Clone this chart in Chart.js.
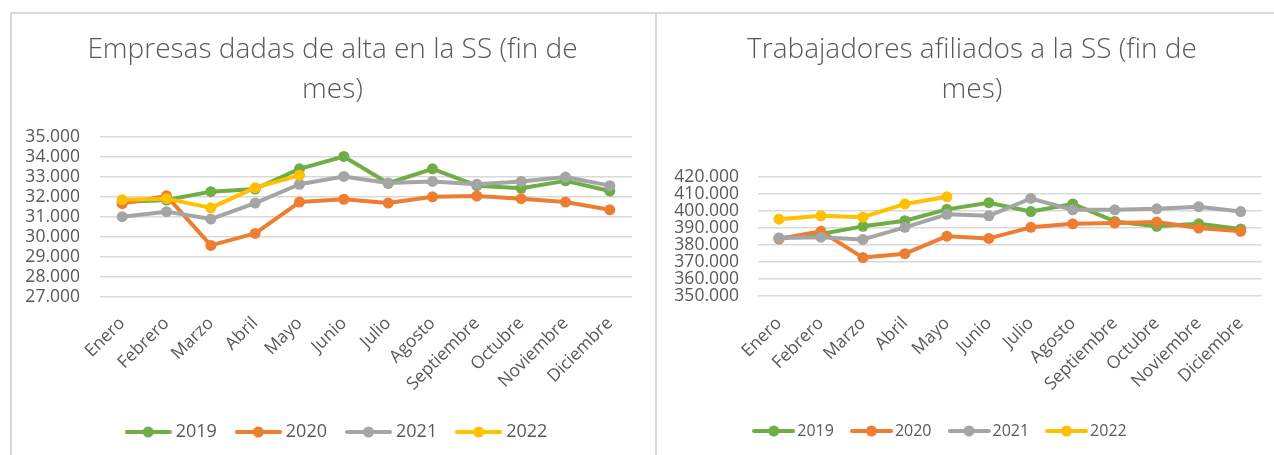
<!DOCTYPE html>
<html><head><meta charset="utf-8">
<script src="https://cdn.jsdelivr.net/npm/chart.js@4.4.0/dist/chart.umd.min.js"></script>
<style>
html,body{margin:0;padding:0;background:#fff;}
body{width:1274px;height:455px;overflow:hidden;position:relative;}
.panel{position:absolute;top:12px;border-top:2px solid #d9d9d9;border-left:2px solid #d9d9d9;box-sizing:border-box;}
#p1{left:10px;width:646px;height:480px;}
#p2{left:655px;width:640px;height:480px;}
.cw{position:absolute;left:0;top:0;}
#w1{width:643px;height:460px;}
#w2{width:616px;height:460px;}
</style></head>
<body>
<div class="panel" id="p1"><div class="cw" id="w1"><canvas id="c1"></canvas></div></div>
<div class="panel" id="p2"><div class="cw" id="w2"><canvas id="c2"></canvas></div></div>
<script>
const months = ['Enero','Febrero','Marzo','Abril','Mayo','Junio','Julio','Agosto','Septiembre','Octubre','Noviembre','Diciembre'];
const years = ['2019','2020','2021','2022'];

const empresas2019 = [31750, 31850, 32270, 32400, 33410, 34030, 32690, 33410, 32570, 32440, 32810, 32300];
const empresas2020 = [31670, 32060, 29580, 30180, 31750, 31890, 31700, 32010, 32050, 31920, 31750, 31360];
const empresas2021 = [31020, 31270, 30900, 31700, 32640, 33030, 32700, 32780, 32640, 32780, 33000, 32570];
const empresas2022 = [31870, 31920, 31460, 32470, 33090, null, null, null, null, null, null, null];

const afiliados2019 = [384000, 386500, 391000, 394300, 401000, 404900, 399700, 404200, 393900, 391000, 392500, 389500];
const afiliados2020 = [383500, 388100, 372600, 374900, 385200, 383900, 390400, 392500, 392900, 393500, 390000, 388100];
const afiliados2021 = [384200, 384600, 383300, 390400, 398100, 397200, 407400, 400700, 400700, 401300, 402600, 399700];
const afiliados2022 = [395200, 397200, 396400, 404200, 408400, null, null, null, null, null, null, null];

const empresasTicks = {min: 27000, max: 35000, step: 1000};
const afiliadosTicks = {min: 350000, max: 420000, step: 10000};

const colors = ['#70AD47', '#ED7D31', '#A5A5A5', '#FFC000'];
const FONT = "'Open Sans', sans-serif";
const TXT = '#595959';

function legendIcon(color, w) {
  const c = document.createElement('canvas');
  c.width = w; c.height = 12;
  const x = c.getContext('2d');
  x.strokeStyle = color; x.lineWidth = 4; x.lineCap = 'round';
  x.beginPath(); x.moveTo(2, 6); x.lineTo(w - 2, 6); x.stroke();
  x.fillStyle = color; x.beginPath(); x.arc(w / 2, 6, 5.5, 0, Math.PI * 2); x.fill();
  return c;
}

function fmt(v) { return (v / 1000).toFixed(3); }

const shiftPlugin = {
  id: 'shiftBoxes',
  afterLayout(chart, args, opts) {
    const t = chart.titleBlock, l = chart.legend;
    if (t && opts.titleCenter != null) {
      const dx = opts.titleCenter - (t.left + t.right) / 2; t.left += dx; t.right += dx;
    }
    if (l && opts.legendCenter != null) {
      const dx = opts.legendCenter - (l.left + l.right) / 2; l.left += dx; l.right += dx;
    }
  }
};

function makeChart(id, title, series, ticks, cfg) {
  const icons = colors.map(c => legendIcon(c, cfg.iconW));
  const datasets = series.map((d, i) => ({
    label: years[i], data: d,
    borderColor: colors[i], backgroundColor: colors[i],
    borderWidth: 4, pointRadius: 5.5, pointHoverRadius: 5.5,
    pointBorderWidth: 0, borderJoinStyle: 'round', borderCapStyle: 'round',
    order: 3 - i, spanGaps: false
  }));
  return new Chart(document.getElementById(id), {
    type: 'line',
    data: {labels: months, datasets},
    plugins: [shiftPlugin],
    options: {
      responsive: true, maintainAspectRatio: false, animation: false,
      layout: {padding: cfg.pad},
      plugins: {
        shiftBoxes: {titleCenter: cfg.titleCenter, legendCenter: cfg.legendCenter},
        title: {display: true, text: title, color: TXT,
          font: {family: FONT, size: 28, weight: 300, lineHeight: 1.43},
          padding: cfg.titlePad},
        legend: {position: 'bottom',
          labels: {usePointStyle: true, pointStyleWidth: cfg.boxW, padding: cfg.legPad,
            color: TXT, font: {family: FONT, size: cfg.legFont},
            generateLabels: (chart) => chart.data.datasets.map((ds, i) => ({
              text: ds.label, pointStyle: icons[i], datasetIndex: i,
              fillStyle: colors[i], strokeStyle: colors[i], lineWidth: 0, hidden: false,
              fontColor: TXT
            }))}},
        tooltip: {enabled: false}
      },
      scales: {
        x: {offset: true, grid: {display: false, drawTicks: false, offset: true}, border: {display: false},
          afterFit: (a) => { a.height = cfg.xH; },
          ticks: {color: TXT, font: {family: FONT, size: 17.5}, minRotation: 45, maxRotation: 45,
            padding: cfg.xPad, autoSkip: false}},
        y: {min: ticks.min, max: ticks.max,
          afterFit: (a) => { a.width = cfg.yW; },
          grid: {color: '#d9d9d9', lineWidth: 1.5, drawTicks: false},
          border: {display: false},
          ticks: {stepSize: ticks.step, color: TXT, font: {family: FONT, size: 17.5}, padding: cfg.yPad, autoSkip: false, callback: fmt}}
      }
    }
  });
}

makeChart('c1', ['Empresas dadas de alta en la SS (fin de', 'mes)'],
  [empresas2019, empresas2020, empresas2021, empresas2022], empresasTicks,
  {pad: {left: 13, right: 23, top: 0, bottom: 23}, titlePad: {top: 16, bottom: 27},
   yW: 75, yPad: 20, xH: 103, xPad: 16, iconW: 47, boxW: 37, legPad: 23, legFont: 18,
   titleCenter: 320.5, legendCenter: 326.5});
makeChart('c2', ['Trabajadores afiliados a la SS (fin de', 'mes)'],
  [afiliados2019, afiliados2020, afiliados2021, afiliados2022], afiliadosTicks,
  {pad: {left: 16, right: 11, top: 0, bottom: 25}, titlePad: {top: 16, bottom: 67},
   yW: 85, yPad: 19, xH: 105, xPad: 17, iconW: 43, boxW: 31, legPad: 22, legFont: 16,
   titleCenter: 315, legendCenter: 285.5});
</script>
</body></html>
